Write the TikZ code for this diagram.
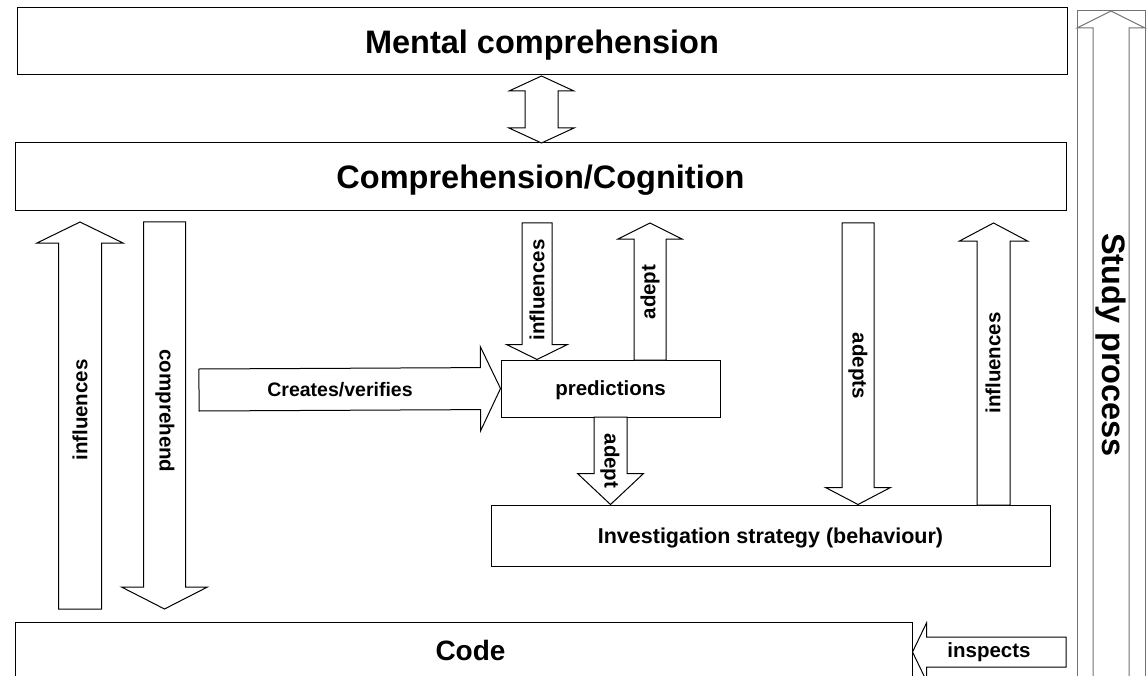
\documentclass[tikz,border=0pt]{standalone}
\usepackage{fontspec}
\setmainfont{Liberation Sans}
\usetikzlibrary{calc,positioning}

\tikzset{
	box/.style={draw, line width=1pt, inner sep=0pt, text depth=0pt, font=\bfseries\fontsize{20.5}{24}\selectfont},
	bigbox/.style={box, font=\bfseries\fontsize{32.5}{38}\selectfont},
	barrow/.style={draw, line width=1pt, fill=white, line join=miter},
	lbl/.style={font=\bfseries\fontsize{20.5}{24}\selectfont, inner sep=0pt},
	studycol/.style={draw=black!55},
}

% block arrow: tail, tip, shaft half width, head half width, head length
\newcommand{\blockarrow}[6][]{%
	\coordinate (hb) at ($(#3)!#6!(#2)$);
	\draw[barrow,#1] ($(#2)!#4!90:(#3)$) -- ($(hb)!#4!90:(#3)$) -- ($(hb)!#5!90:(#3)$) -- (#3)
		-- ($(hb)!#5!-90:(#3)$) -- ($(hb)!#4!-90:(#3)$) -- ($(#2)!#4!-90:(#3)$) -- cycle;
}
% double block arrow: end, end, shaft half width, head half width, head length
\newcommand{\dblarrow}[5]{%
	\coordinate (ha) at ($(#1)!#5!(#2)$);
	\coordinate (hb) at ($(#2)!#5!(#1)$);
	\draw[barrow] (#1) -- ($(ha)!#4!90:(#2)$) -- ($(ha)!#3!90:(#2)$) -- ($(hb)!#3!90:(#2)$)
		-- ($(hb)!#4!90:(#2)$) -- (#2) -- ($(hb)!#4!-90:(#2)$) -- ($(hb)!#3!-90:(#2)$)
		-- ($(ha)!#3!-90:(#2)$) -- ($(ha)!#4!-90:(#2)$) -- cycle;
}

\begin{document}
\begin{tikzpicture}[x=1pt, y=-1pt]
	\useasboundingbox (0,0) rectangle (1147,676);
	\clip (0,0) rectangle (1147,676);

	% boxes
	\node [bigbox, minimum width=1050, minimum height=67] (mental) at (542,41.5) {Mental comprehension};
	\node [bigbox, minimum width=1051, minimum height=68] (cogn)   at (540.5,177) {Comprehension/Cognition};
	\node [box, minimum width=219, minimum height=57]     (pred)   at (610.5,388.5) {predictions};
	\node [box, minimum width=559, minimum height=61, font=\bfseries\fontsize{21.5}{25}\selectfont]
	      (invest) at (770.5,535.5) {Investigation strategy (behaviour)};
	\node [bigbox, minimum width=897, minimum height=56, font=\bfseries\fontsize{28}{34}\selectfont]
	      (code)   at (463.5,650) {\hspace*{14pt}Code};
	\node [box, studycol, minimum width=68, minimum height=670] (study) at (1111,346) {};

	% arrow ends
	\coordinate (mc-a) at (541.5,143);
	\coordinate (mc-b) at (541.5,76);
	\coordinate (inf1-a) at (80,609);
	\coordinate (inf1-b) at (80,222);
	\coordinate (comp-a) at (164.5,222);
	\coordinate (comp-b) at (164.5,609);
	\coordinate (cre-a) at (199,390);
	\coordinate (cre-b) at (pred.west);
	\coordinate (inf2-a) at (537,223);
	\coordinate (inf2-b) at (inf2-a |- pred.north);
	\coordinate (adp1-a) at (650,360);
	\coordinate (adp1-b) at (650,223);
	\coordinate (adp2-a) at (610.5,417);
	\coordinate (adp2-b) at (adp2-a |- invest.north);
	\coordinate (adps-a) at (858,223);
	\coordinate (adps-b) at (adps-a |- invest.north);
	\coordinate (inf3-a) at (993.5,505);
	\coordinate (inf3-b) at (993.5,223);
	\coordinate (insp-a) at (1066,652);
	\coordinate (insp-b) at (code.east |- insp-a);
	\coordinate (stu-a) at (1111,690);
	\coordinate (stu-b) at (1111,11);

	% arrows
	\dblarrow{mc-a}{mc-b}{16.5pt}{32.5pt}{15pt}
	\blockarrow{inf1-a}{inf1-b}{21.5pt}{43pt}{21pt}
	\blockarrow{comp-a}{comp-b}{21pt}{43pt}{22pt}
	\blockarrow{cre-a}{cre-b}{21pt}{42pt}{20pt}
	\blockarrow{inf2-a}{inf2-b}{15pt}{30.5pt}{15pt}
	\blockarrow{adp1-a}{adp1-b}{16pt}{32pt}{16pt}
	\blockarrow{adp2-a}{adp2-b}{16.5pt}{33pt}{31pt}
	\blockarrow{adps-a}{adps-b}{16pt}{32.5pt}{17pt}
	\blockarrow{inf3-a}{inf3-b}{16.5pt}{34pt}{18pt}
	\blockarrow{insp-a}{insp-b}{15pt}{29pt}{14pt}
	\blockarrow[studycol]{stu-a}{stu-b}{18pt}{34pt}{17pt}

	% labels
	\node [lbl, rotate=90]  (l-inf1) at (80,410)  {influences};
	\node [lbl, rotate=-90] (l-comp) at (165,411) {comprehend};
	\node [lbl, font=\bfseries\fontsize{19.5}{24}\selectfont] (l-cre) at (340,390) {Creates/verifies};
	\node [lbl, rotate=90]  (l-inf2) at (537,290) {influences};
	\node [lbl, rotate=90]  (l-adp1) at (650,292) {adept};
	\node [lbl, rotate=-90] (l-adp2) at (610,461) {adept};
	\node [lbl, rotate=-90] (l-adps) at (858,366) {adepts};
	\node [lbl, rotate=90]  (l-inf3) at (993,363) {influences};
	\node [lbl]             (l-insp) at (989,652) {inspects};
	\node [lbl, rotate=-90, font=\bfseries\fontsize{32.5}{38}\selectfont] (l-stu) at (1111,345) {Study process};
\end{tikzpicture}
\end{document}
